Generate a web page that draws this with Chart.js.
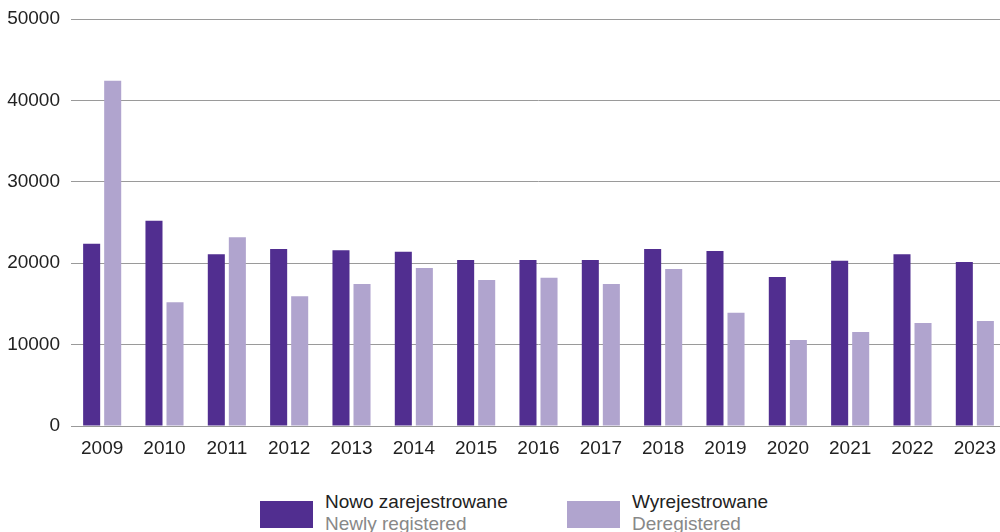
<!DOCTYPE html>
<html>
<head>
    <title>Rejestracje</title>
    <script src="https://cdn.jsdelivr.net/npm/chart.js"></script>
    <style>
        body { margin: 0; overflow: hidden; background: #fff; font-family: "Liberation Sans", Arial, sans-serif; }
        #wrap { position: absolute; left: 0; top: 0; width: 1006px; height: 470px; }
        .leg { position: absolute; top: 491px; font-size: 19px; line-height: 22px; }
        .leg .box { position: absolute; left: 0; top: 10px; width: 53px; height: 27px; }
        .leg .txt { position: absolute; left: 65px; top: 0; white-space: nowrap; color: #222; }
        .leg .en { color: #888; }
    </style>
</head>
<body>
<div id="wrap"><canvas id="chart"></canvas></div>
<div class="leg" style="left:260px"><div class="box" style="background:#512e90"></div><div class="txt">Nowo zarejestrowane<br><span class="en">Newly registered</span></div></div>
<div class="leg" style="left:567px"><div class="box" style="background:#b0a4ce"></div><div class="txt">Wyrejestrowane<br><span class="en">Deregistered</span></div></div>

<script>
const years = ['2009','2010','2011','2012','2013','2014','2015','2016','2017','2018','2019','2020','2021','2022','2023'];
const newlyRegistered = [22400, 25200, 21100, 21750, 21600, 21400, 20400, 20400, 20400, 21750, 21500, 18300, 20300, 21100, 20150];
const deregistered = [42400, 15200, 23200, 15950, 17450, 19400, 17950, 18200, 17450, 19300, 13900, 10550, 11550, 12650, 12900];
const yTicks = [0, 10000, 20000, 30000, 40000, 50000];

new Chart(document.getElementById('chart'), {
    type: 'bar',
    data: {
        labels: years,
        datasets: [
            { label: 'Nowo zarejestrowane', data: newlyRegistered, backgroundColor: '#512e90',
              categoryPercentage: 0.675, barPercentage: 0.81 },
            { label: 'Wyrejestrowane', data: deregistered, backgroundColor: '#b0a4ce',
              categoryPercentage: 0.675, barPercentage: 0.81 }
        ]
    },
    options: {
        responsive: true,
        maintainAspectRatio: false,
        animation: false,
        layout: { padding: { top: 0, left: 6, right: 0, bottom: 0 } },
        plugins: { legend: { display: false }, tooltip: { enabled: false } },
        scales: {
            x: {
                afterFit: axis => { axis.height = 44; },
                grid: { display: false },
                border: { color: '#999', width: 1 },
                ticks: { color: '#222', font: { family: 'Liberation Sans', size: 19 }, padding: 3, maxRotation: 0 }
            },
            y: {
                min: 0, max: 50000,
                afterFit: axis => { axis.width = 65; axis.paddingTop = 19; },
                afterBuildTicks: axis => { axis.ticks = yTicks.map(v => ({ value: v })); },
                grid: { color: '#9a9a9a', drawTicks: false },
                border: { display: false },
                ticks: { color: '#222', font: { family: 'Liberation Sans', size: 19 }, padding: 11,
                         callback: v => String(v) }
            }
        }
    }
});
</script>
</body>
</html>
